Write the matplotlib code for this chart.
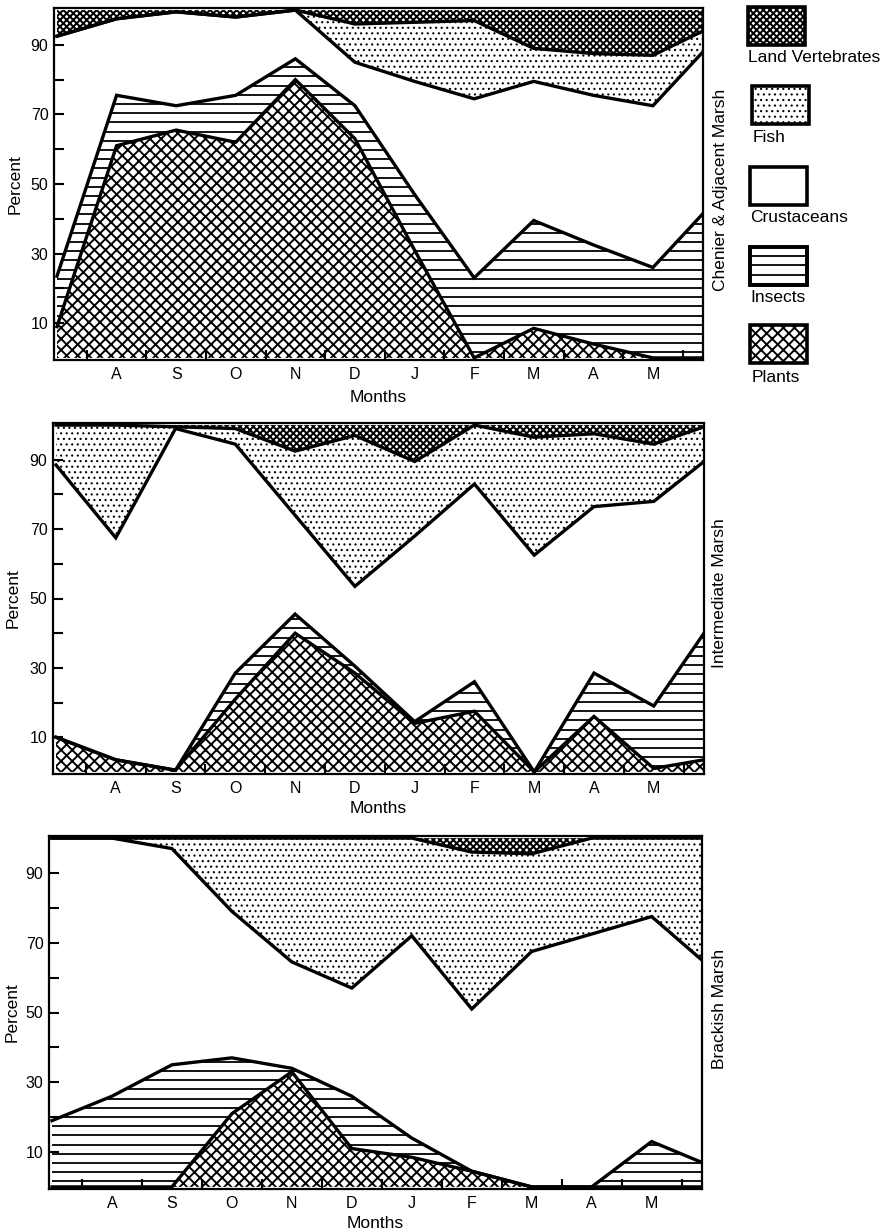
import numpy as np
import matplotlib
matplotlib.use('Agg')
import matplotlib.pyplot as plt
from matplotlib.patches import Rectangle

plt.rcParams['font.family'] = ['Liberation Sans', 'DejaVu Sans']
plt.rcParams['hatch.color'] = 'black'
plt.rcParams['hatch.linewidth'] = 1.2

# ---------------- data ----------------
categories = ['Plants', 'Insects', 'Crustaceans', 'Fish', 'Land Vertebrates']
month_labels = ['A', 'S', 'O', 'N', 'D', 'J', 'F', 'M', 'A', 'M']
month_pos = [1, 2, 3, 4, 5, 6, 7, 8, 9, 10]
# sample positions in months after July (last sample early June)
sample_pos = [0, 1, 2, 3, 4, 5, 6, 7, 8, 9, 10, 10.84]
y_labels = [10, 30, 50, 70, 90]

panel_titles = ['Chenier & Adjacent Marsh', 'Intermediate Marsh', 'Brackish Marsh']

chenier_plants = [9, 61, 65.5, 62, 80, 63, 31, 0, 8.5, 4, 0, 0]
chenier_insects = [14.5, 14.5, 7, 13.5, 6, 9.5, 16, 23, 31, 28.5, 26, 41.5]
chenier_crust = [69, 22, 27, 22.5, 14, 12.5, 32.5, 51.5, 40, 43, 46.5, 46.5]
chenier_fish = [0, 0, 0, 0, 0, 11, 17, 22.5, 9.5, 12, 14.5, 6]
chenier_landvert = [7.5, 2.5, 0.5, 2, 0, 4, 3.5, 3, 11, 12.5, 13, 6]

inter_plants = [10, 3.5, 0.5, 21, 40, 28.5, 14, 17.5, 0, 16, 1, 3.5]
inter_insects = [0, 0, 0, 7.5, 5.5, 2, 0.5, 8.5, 0, 12.5, 18, 36.5]
inter_crust = [78.5, 64, 98.5, 66, 28.5, 23, 53.5, 57, 62.5, 48, 59, 49.5]
inter_fish = [11.5, 32.5, 0.5, 4.5, 18.5, 43.5, 21.5, 17, 34, 21, 16.5, 10]
inter_landvert = [0, 0, 0.5, 1, 7.5, 3, 10.5, 0, 3.5, 2.5, 5.5, 0.5]

brack_plants = [0, 0, 0, 21, 33, 11, 8.5, 4.5, 0, 0, 0, 0]
brack_insects = [19, 26, 35, 16, 1, 15, 5.5, 0, 0, 0, 13, 7]
brack_crust = [81, 74, 62, 42, 30.5, 31, 58, 46.5, 67.5, 72.5, 64.5, 58]
brack_fish = [0, 0, 3, 21, 35.5, 43, 28, 45, 28, 27.5, 22.5, 35]
brack_landvert = [0, 0, 0, 0, 0, 0, 0, 4, 4.5, 0, 0, 0]

panels = [
    [chenier_plants, chenier_insects, chenier_crust, chenier_fish, chenier_landvert],
    [inter_plants, inter_insects, inter_crust, inter_fish, inter_landvert],
    [brack_plants, brack_insects, brack_crust, brack_fish, brack_landvert],
]

# ---------------- style ----------------
# hatch per category; insects get ruled horizontal lines drawn separately
hatches = ['xxx', None, None, '...', 'xxxxx']
hatch_lws = [1.4, 1.0, 1.0, 0.8, 1.45]
RULE_STEP_PX = 9.2      # spacing of the insect ruling, pixels
RULE_LW = 1.3
W, H = 895, 1232
fig = plt.figure(figsize=(W / 100, H / 100), dpi=100)


def frac_rect(l, t, r, b):
    return [l / W, 1 - b / H, (r - l) / W, (b - t) / H]


def set_hlw(artist, lw):
    if hasattr(artist, 'set_hatch_linewidth'):
        try:
            artist.set_hatch_linewidth(lw)
        except Exception:
            pass


axes_px = [(54, 8, 703, 360), (53, 423, 704, 774), (49, 836, 702, 1189)]
title_y = [190, 593, 1009]
months_off = [-0.085, -0.078, -0.077]
plabel_x = [-0.049, -0.049, -0.045]

FS_LAB = 12.5
FS_TICK = 11.5
LW_BOUND = 2.4
YLIM = (-0.6, 100.6)
XLIM = (-0.05, 10.84)

for ax_px, layers, title, ty, moff, plx in zip(axes_px, panels, panel_titles,
                                               title_y, months_off, plabel_x):
    ax = fig.add_axes(frac_rect(*ax_px))
    x = np.array(sample_pos, dtype=float)
    bottom = np.zeros_like(x)
    tops = []
    for ci, (vals, hatch, hlw) in enumerate(zip(layers, hatches, hatch_lws)):
        top = bottom + np.array(vals, dtype=float)
        with plt.rc_context({'hatch.linewidth': hlw}):
            coll = ax.fill_between(x, bottom, top, facecolor='white', edgecolor='black',
                                   linewidth=0, hatch=hatch)
        set_hlw(coll, hlw)
        if categories[ci] == 'Insects':
            px_per_unit = (ax_px[3] - ax_px[1]) / (YLIM[1] - YLIM[0])
            step = RULE_STEP_PX / px_per_unit
            levels = np.arange(step * 0.6, 100, step)
            rules = ax.hlines(levels, XLIM[0], XLIM[1], colors='black', linewidth=RULE_LW)
            rules.set_clip_path(coll.get_paths()[0], ax.transData)
        tops.append(top)
        bottom = top
    for top in tops[:-1]:
        ax.plot(x, top, color='black', lw=LW_BOUND, solid_joinstyle='miter')

    ax.set_xticks(month_pos)
    ax.set_xticklabels(month_labels, fontsize=FS_TICK)
    ax.set_xticks([p - 0.5 for p in month_pos] + [10.5], minor=True)
    ax.tick_params(axis='x', which='major', length=0, pad=5)
    ax.tick_params(axis='x', which='minor', direction='in', length=7, width=1.5)
    ax.set_yticks(y_labels)
    ax.set_yticklabels([str(v) for v in y_labels], fontsize=FS_TICK)
    ax.set_yticks([20, 40, 60, 80], minor=True)
    ax.tick_params(axis='y', which='both', direction='in', length=7, width=1.5, pad=4)
    ax.set_xlim(*XLIM)
    ax.set_ylim(*YLIM)
    for sp in ax.spines.values():
        sp.set_linewidth(1.6)

    ax.set_ylabel('Percent', fontsize=FS_LAB)
    ax.yaxis.set_label_coords(plx, 0.5)
    ax.set_xlabel('Months', fontsize=FS_LAB)
    ax.xaxis.set_label_coords(0.5, moff)

    fig.text(720 / W, 1 - ty / H, title, rotation=90, ha='center', va='center',
             fontsize=FS_LAB)

# ---------------- legend ----------------
lax = fig.add_axes(frac_rect(740, 0, 895, 400))
lax.set_xlim(0, 155)
lax.set_ylim(400, 0)
lax.axis('off')
legend_order = ['Land Vertebrates', 'Fish', 'Crustaceans', 'Insects', 'Plants']
box_tops = [7, 86, 167, 247, 325]
box_left = [8, 12, 10, 10, 10]
text_y = [58, 137, 217, 297, 377]
text_x = [8, 13, 10, 10, 12]
BOX_W, BOX_H = 57, 38
for name, bt, bl, tyy, txx in zip(legend_order, box_tops, box_left, text_y, text_x):
    i = categories.index(name)
    h = hatches[i]
    with plt.rc_context({'hatch.linewidth': hatch_lws[i]}):
        p = Rectangle((bl, bt), BOX_W, BOX_H, facecolor='white', edgecolor='black',
                      linewidth=2.6, hatch=h)
    set_hlw(p, hatch_lws[i])
    lax.add_patch(p)
    if name == 'Insects':
        lv = np.arange(bt + RULE_STEP_PX, bt + BOX_H, RULE_STEP_PX)
        r = lax.hlines(lv, bl, bl + BOX_W, colors='black', linewidth=RULE_LW)
        r.set_clip_path(p)
        # redraw border on top
        lax.add_patch(Rectangle((bl, bt), BOX_W, BOX_H, facecolor='none',
                                edgecolor='black', linewidth=2.6))
    lax.text(txx, tyy, name, ha='left', va='center', fontsize=FS_LAB)

fig.savefig('out.png', dpi=100)
